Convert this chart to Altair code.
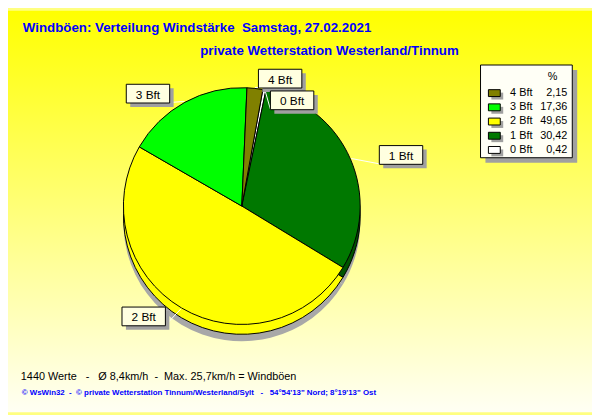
import math
import altair as alt
import pandas as pd

# ---- data ----
cats = ["0 Bft", "1 Bft", "2 Bft", "3 Bft", "4 Bft"]
bft = [0, 1, 2, 3, 4]
values = [0.42, 30.42, 49.65, 17.36, 2.15]

NB = "\u00a0"
title1 = f"Windböen: Verteilung Windstärke {NB}Samstag, 27.02.2021"
title2 = "private Wetterstation Westerland/Tinnum"
line1 = f"1440 Werte {NB}{NB}-{NB}{NB}{NB}Ø 8,4km/h {NB}-{NB}{NB}Max. 25,7km/h = Windböen"
line2 = (f"© WsWin32 {NB}-{NB}{NB}© private Wetterstation Tinnum/Westerland/Sylt "
         f"{NB}{NB}-{NB}{NB}{NB}54°54'13\" Nord; 8°19'13\" Ost")

# ---- styles ----
top_colors = ["#FFFFFF", "#007800", "#FFFF00", "#00FF00", "#808000"]
rim_colors = ["#E0E0E0", "#005400", "#FFFF00", "#00C800", "#606000"]
FONT = "Liberation Sans"
BLUE = "#0000FF"
W, H = 592, 407
CX, CY, R = 237, 198, 120
RIM = 10
OFF = math.radians(2.5)
LRX, LRY = 152, 130

df = pd.DataFrame({"cat": cats, "bft": bft, "value": values})
one = pd.DataFrame({"a": [0]})

bg = alt.Chart(one).mark_rect(
    fill=alt.Gradient(
        gradient="linear", x1=0, y1=0, x2=0, y2=1,
        stops=[alt.GradientStop(color="#FFFF00", offset=0),
               alt.GradientStop(color="#FFFFF4", offset=1)],
    )
).encode(x=alt.value(0), x2=alt.value(W), y=alt.value(0), y2=alt.value(H))


def txt(text, x, y, **kw):
    return alt.Chart(one).mark_text(text=text, font=FONT, **kw).encode(
        x=alt.value(x), y=alt.value(y))


t1 = txt(title1, 15, 22, align="left", baseline="alphabetic", fontSize=13.5,
         fontWeight="bold", color=BLUE)
t2 = txt(title2, 457, 45, align="right", baseline="alphabetic", fontSize=13.5,
         fontWeight="bold", color=BLUE)
b1 = txt(line1, 13, 374, align="left", baseline="alphabetic", fontSize=11,
         color="black")
b2 = txt(line2, 14, 390, align="left", baseline="alphabetic", fontSize=8,
         fontWeight="bold", color=BLUE)

base = alt.Chart(df).transform_calculate(pie_order="(datum.bft + 1) % 5")

theta = alt.Theta("value:Q", stack=True,
                  scale=alt.Scale(range=[OFF, OFF + 2 * math.pi]))
order = alt.Order("pie_order:Q", sort="ascending")

shadow = base.mark_arc(radius=R, color="#A8A8A8").encode(
    theta=theta, order=order, x=alt.value(CX), y=alt.value(CY + 17))

rim = base.mark_arc(radius=R, stroke="black", strokeWidth=1).encode(
    theta=theta, order=order,
    color=alt.Color("cat:N", scale=alt.Scale(domain=cats, range=rim_colors), legend=None),
    x=alt.value(CX), y=alt.value(CY + RIM))

top = base.mark_arc(radius=R, stroke="black", strokeWidth=1).encode(
    theta=theta, order=order,
    color=alt.Color("cat:N", scale=alt.Scale(domain=cats, range=top_colors), legend=None),
    x=alt.value(CX), y=alt.value(CY))

# label positions derived from slice angles
lab = (
    base.transform_joinaggregate(total="sum(value)")
    .transform_window(cum="sum(value)", sort=[alt.SortField("pie_order")], frame=[None, 0])
    .transform_calculate(mid=f"{OFF} + 2*PI*(datum.cum - datum.value/2)/datum.total")
    .transform_calculate(lx=f"{CX} + {LRX}*sin(datum.mid)")
    .transform_calculate(ly=f"{CY} - {LRY}*cos(datum.mid)")
    .transform_calculate(side="sin(datum.mid) >= 0 ? 1 : -1")
    .transform_calculate(bx="datum.lx + 22*datum.side")
    .transform_window(prev_ly="lag(ly)", prev_bx="lag(bx)", sort=[alt.SortField("pie_order")])
    .transform_calculate(
        by="isValid(datum.prev_ly) && abs(datum.ly - datum.prev_ly) < 22 && abs(datum.bx - datum.prev_bx) < 46 ? datum.prev_ly + 22 : datum.ly")
    .transform_calculate(sx="datum.bx + 4", sy="datum.by + 4")
    .transform_calculate(ex=f"{CX} + {R + 1}*sin(datum.mid)", ey=f"{CY} - {R + 1}*cos(datum.mid)")
    .transform_calculate(ax="datum.bx - 22*datum.side", ay="datum.by + 9")
)
BOX = "M-1,-0.4318L1,-0.4318L1,0.4318L-1,0.4318Z"
leader = lab.mark_rule(color="white", strokeWidth=1).encode(
    x=alt.X("ex:Q", scale=None, axis=None), y=alt.Y("ey:Q", scale=None, axis=None),
    x2="ax:Q", y2="ay:Q")
lab_shadow = lab.mark_point(shape=BOX, size=44 * 44, filled=True, color="#A0A0A0", opacity=1).encode(
    x=alt.X("sx:Q", scale=None, axis=None), y=alt.Y("sy:Q", scale=None, axis=None))
lab_box = lab.mark_point(shape=BOX, size=44 * 44, filled=True, fill="#FFFFE0", stroke="black",
                         strokeWidth=1, opacity=1).encode(
    x=alt.X("bx:Q", scale=None, axis=None), y=alt.Y("by:Q", scale=None, axis=None))
lab_text = lab.mark_text(font=FONT, fontSize=12, align="center", baseline="middle", color="black",
                         dy=1).encode(
    x=alt.X("bx:Q", scale=None, axis=None), y=alt.Y("by:Q", scale=None, axis=None), text="cat:N")

# legend
LX0, LX1, LY0, LY1 = 479, 572, 55, 149
leg_shadow = alt.Chart(one).mark_rect(color="#A0A0A0").encode(
    x=alt.value(LX0 + 5), x2=alt.value(LX1 + 5), y=alt.value(LY0 + 5), y2=alt.value(LY1 + 5))
leg_box = alt.Chart(one).mark_rect(fill="#FFFFF6", stroke="black", strokeWidth=1).encode(
    x=alt.value(LX0), x2=alt.value(LX1), y=alt.value(LY0), y2=alt.value(LY1))
pct = txt("%", 552, 67, align="center", baseline="middle", fontSize=11, color="black")

leg = base.transform_calculate(ry="83.5 + 14.4*(4 - datum.bft)").transform_calculate(
    ry_s="datum.ry + 3",
    vlabel="replace(format(datum.value, '.2f'), '.', ',')")
SW = "M-1,-0.5833L1,-0.5833L1,0.5833L-1,0.5833Z"
sw_shadow = leg.mark_point(shape=SW, size=144, filled=True, color="#A0A0A0", opacity=1).encode(
    x=alt.value(496), y=alt.Y("ry_s:Q", scale=None, axis=None))
sw = leg.mark_point(shape=SW, size=144, filled=True, stroke="black", strokeWidth=1, opacity=1).encode(
    x=alt.value(493), y=alt.Y("ry:Q", scale=None, axis=None),
    color=alt.Color("cat:N", scale=alt.Scale(domain=cats, range=top_colors), legend=None))
sw_lab = leg.mark_text(font=FONT, fontSize=11, align="left", baseline="middle", color="black").encode(
    x=alt.value(509), y=alt.Y("ry:Q", scale=None, axis=None), text="cat:N")
sw_val = leg.mark_text(font=FONT, fontSize=11, align="right", baseline="middle", color="black").encode(
    x=alt.value(567), y=alt.Y("ry:Q", scale=None, axis=None), text="vlabel:N")

chart = alt.layer(
    bg, t1, t2, b1, b2,
    shadow, rim, top,
    leader, lab_shadow, lab_box, lab_text,
    leg_shadow, leg_box, pct, sw_shadow, sw, sw_lab, sw_val,
).resolve_scale(color="independent").properties(
    width=W, height=H, padding=0, autosize=alt.AutoSizeParams(type="none"),
    background="#FFFF80",
).configure_view(stroke=None)

chart.save("out.html", embed_options={"renderer": "svg", "actions": False})
